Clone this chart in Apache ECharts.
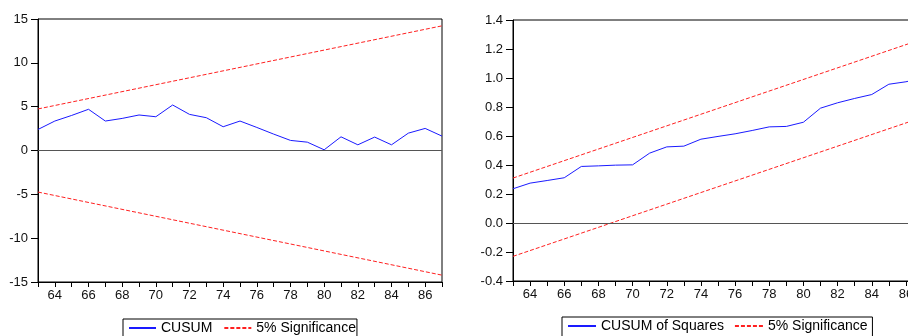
<!DOCTYPE html>
<html>
<head>
<meta charset="utf-8">
<script src="https://cdn.jsdelivr.net/npm/echarts@6/dist/echarts.min.js"></script>
<style>html,body{margin:0;padding:0;background:#fff;}#c{width:908px;height:336px;}</style>
</head>
<body>
<div id="c"></div>
<script>
// Years (observations)
const years = [63,64,65,66,67,68,69,70,71,72,73,74,75,76,77,78,79,80,81,82,83,84,85,86,87];
// CUSUM statistic
const cusum = [2.4,3.36,4.0,4.7,3.36,3.66,4.05,3.85,5.19,4.12,3.74,2.71,3.36,2.63,1.87,1.15,0.95,0.08,1.56,0.65,1.53,0.65,1.98,2.52,1.64];
// CUSUM 5% bounds (start year, end year) values
const cusumBoundYears = [63, 87];
const cusumUpper = [4.74, 14.22];
const cusumLower = [-4.74, -14.22];
// CUSUM of Squares statistic
const cusumSq = [0.236,0.275,0.293,0.312,0.39,0.394,0.399,0.401,0.482,0.525,0.53,0.578,0.597,0.615,0.638,0.663,0.666,0.695,0.792,0.829,0.859,0.886,0.957,0.974,1.0];
// CUSUM of Squares 5% bounds
const sqUpper = [0.31, 1.27];
const sqLower = [-0.23, 0.73];
// Axis ticks
const cusumTicks = {min: -15, max: 15, interval: 5};
const sqTicks = {min: -0.4, max: 1.4, interval: 0.2};

const FONT = 'Arial, "Liberation Sans", sans-serif';
const pairs = (xs, ys) => xs.map((x, i) => [x, ys[i]]);

function xAxisFor(gi) {
  return {
    type: 'value', gridIndex: gi, min: 63, max: 87, interval: 1,
    axisLine: {show: true, onZero: false, lineStyle: {color: '#000', width: 1}},
    axisTick: {show: true, inside: false, length: 5, lineStyle: {color: '#000'}},
    axisLabel: {margin: 7, fontFamily: FONT, fontSize: 13, color: '#111',
      formatter: v => (v % 2 === 0 ? String(v) : '')},
    splitLine: {show: false}
  };
}
function yAxisFor(gi, t, fmt) {
  return {
    type: 'value', gridIndex: gi, min: t.min, max: t.max, interval: t.interval,
    axisLine: {show: true, lineStyle: {color: '#000', width: 1}},
    axisTick: {show: true, inside: false, length: 7, lineStyle: {color: '#000'}},
    axisLabel: {margin: 10, fontFamily: FONT, fontSize: 13, color: '#111', formatter: fmt},
    splitLine: {show: false}
  };
}
const zeroLine = {
  silent: true, symbol: 'none', label: {show: false},
  lineStyle: {color: '#555', type: 'solid', width: 1},
  data: [{yAxis: 0}]
};
const blue = '#1a1aff';
const red = '#ff2020';
const dash = [4, 2];

const legendBase = {
  orient: 'horizontal', itemHeight: 14,
  borderColor: '#000', borderWidth: 1, padding: [2, 1, 20, 5],
  textStyle: {fontFamily: FONT, fontSize: 14, color: '#000'},
  itemStyle: {color: 'rgba(0,0,0,0)', borderWidth: 0, opacity: 0},
  selectedMode: false
};

const option = {
  animation: false,
  backgroundColor: '#fff',
  grid: [
    {left: 38, top: 19, width: 404, height: 263, show: true, borderColor: '#000', borderWidth: 1,
      backgroundColor: 'transparent', containLabel: false, outerBoundsMode: 'none'},
    {left: 513, top: 20, width: 410, height: 261, show: true, borderColor: '#000', borderWidth: 1,
      backgroundColor: 'transparent', containLabel: false, outerBoundsMode: 'none'}
  ],
  xAxis: [xAxisFor(0), xAxisFor(1)],
  yAxis: [
    yAxisFor(0, cusumTicks, v => String(v)),
    yAxisFor(1, sqTicks, v => v.toFixed(1))
  ],
  legend: [
    Object.assign({}, legendBase, {
      data: ['CUSUM', '5% Significance'],
      left: 123, top: 319, itemWidth: 27, itemGap: 11
    }),
    Object.assign({}, legendBase, {
      data: ['CUSUM of Squares', '5% Significance '],
      left: 562, top: 317, itemWidth: 28, itemGap: 10
    })
  ],
  series: [
    {name: 'CUSUM', type: 'line', xAxisIndex: 0, yAxisIndex: 0, data: pairs(years, cusum),
      symbol: 'none', lineStyle: {color: blue, width: 1}, itemStyle: {color: blue}, markLine: zeroLine, z: 3},
    {name: '5% Significance', type: 'line', xAxisIndex: 0, yAxisIndex: 0, data: pairs(cusumBoundYears, cusumUpper),
      symbol: 'none', lineStyle: {color: red, width: 1, type: dash}, itemStyle: {color: red}},
    {name: '5% Significance', type: 'line', xAxisIndex: 0, yAxisIndex: 0, data: pairs(cusumBoundYears, cusumLower),
      symbol: 'none', lineStyle: {color: red, width: 1, type: dash}, itemStyle: {color: red}},
    {name: 'CUSUM of Squares', type: 'line', xAxisIndex: 1, yAxisIndex: 1, data: pairs(years, cusumSq),
      symbol: 'none', lineStyle: {color: blue, width: 1}, itemStyle: {color: blue}, markLine: zeroLine, z: 3},
    {name: '5% Significance ', type: 'line', xAxisIndex: 1, yAxisIndex: 1, data: pairs(cusumBoundYears, sqUpper),
      symbol: 'none', lineStyle: {color: red, width: 1, type: dash}, itemStyle: {color: red}},
    {name: '5% Significance ', type: 'line', xAxisIndex: 1, yAxisIndex: 1, data: pairs(cusumBoundYears, sqLower),
      symbol: 'none', lineStyle: {color: red, width: 1, type: dash}, itemStyle: {color: red}}
  ]
};
const chart = echarts.init(document.getElementById('c'), null, {renderer: 'canvas'});
chart.setOption(option);
</script>
</body>
</html>
